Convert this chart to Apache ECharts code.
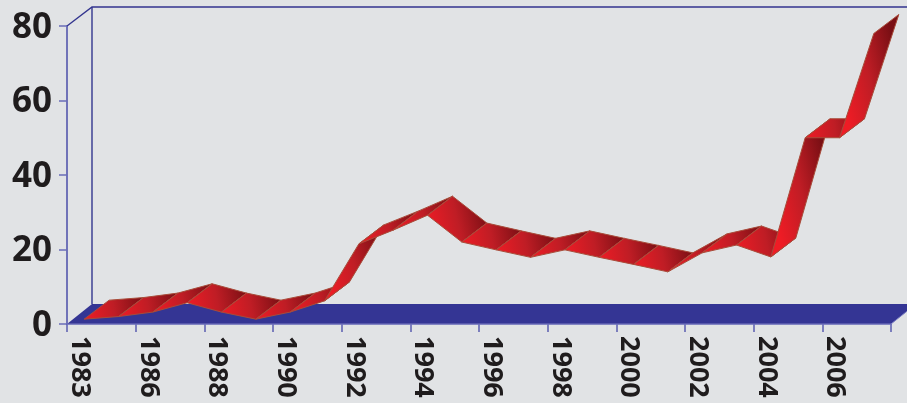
<!DOCTYPE html>
<html>
<head>
<meta charset="utf-8">
<style>
  html, body { margin: 0; padding: 0; background: #e1e3e5; }
  #chart { width: 907px; height: 403px; }
</style>
<script src="https://cdn.jsdelivr.net/npm/echarts@6/dist/echarts.min.js"></script>
</head>
<body>
<div id="chart"></div>
<script>
const years = ['1983', '1985', '1986', '1987', '1988', '1989', '1990', '1991', '1992', '1993', '1994', '1995',
  '1996', '1997', '1998', '1999', '2000', '2001', '2002', '2003', '2004', '2005', '2006', '2007'];
const values = [1.3, 2, 3.2, 5.7, 3.2, 1.3, 3.2, 6.2, 21.5, 25.2, 29.2, 22,
  19.9, 17.9, 19.9, 17.9, 16, 14, 19.1, 21.2, 18, 50, 50, 78];

// pseudo 3D depth of the ribbon and the walls, in pixels
const depthX = 25;
const depthY = -19;
const floorDepthY = -20;

const chart = echarts.init(document.getElementById('chart'), null, { renderer: 'canvas' });

const renderWalls = (params) => {
  const c = params.coordSys;
  const left = c.x;
  const right = c.x + c.width;
  const top = c.y;
  const bottom = c.y + c.height;
  const wall = { stroke: '#33358f', lineWidth: 1.4, fill: null };
  return {
    type: 'group',
    children: [
      {
        type: 'polygon',
        shape: { points: [[left, bottom], [right, bottom], [right + depthX, bottom + floorDepthY], [left + depthX, bottom + floorDepthY]] },
        style: { fill: '#343594' },
      },
      {
        type: 'polyline',
        shape: { points: [[left, bottom], [right, bottom], [right + depthX, bottom + floorDepthY]] },
        style: { stroke: '#7a7dc2', lineWidth: 1, fill: null },
      },
      {
        type: 'polyline',
        shape: { points: [[left, top], [left + depthX, top + depthY], [right + depthX, top + depthY]] },
        style: wall,
      },
      {
        type: 'line',
        shape: { x1: left + depthX, y1: top + depthY, x2: left + depthX, y2: bottom + floorDepthY },
        style: wall,
      },
    ],
  };
};

const renderRibbon = (params, api) => {
  const i = api.value(0);
  if (i >= values.length - 1) {
    return null;
  }
  const a = api.coord([i, api.value(1)]);
  const b = api.coord([i + 1, values[i + 1]]);
  // keep the shading tilt about the same in pixels on tall and flat pieces
  const height = Math.abs(a[1] - b[1]) + Math.abs(depthY);
  const tilt = 0.2 * Math.min(1, 35 / height);
  return {
    type: 'polygon',
    shape: {
      points: [a, b, [b[0] + depthX, b[1] + depthY], [a[0] + depthX, a[1] + depthY]],
    },
    style: {
      fill: new echarts.graphic.LinearGradient(0, 0.5 + tilt, 1, 0.5 - tilt, [
        { offset: 0, color: '#ee1c25' },
        { offset: 0.5, color: '#bf1d25' },
        { offset: 1, color: '#7a0f14' },
      ]),
      stroke: '#a84c3a',
      lineWidth: 1,
    },
  };
};

chart.setOption({
  backgroundColor: '#e1e3e5',
  animation: false,
  grid: { left: 67, right: 16, top: 26, bottom: 79 },
  xAxis: {
    type: 'category',
    data: years,
    boundaryGap: true,
    axisLine: { lineStyle: { color: '#6f73bb', width: 1.5 } },
    axisTick: { show: true, interval: 1, length: 8, lineStyle: { color: '#5a5eb0', width: 1.5 } },
    axisLabel: {
      interval: 1,
      rotate: -90,
      margin: 12,
      hideOverlap: false,
      fontFamily: 'Open Sans',
      fontWeight: 'bold',
      fontSize: 27,
      color: '#1f1c1d',
      verticalAlign: 'top',
      lineHeight: 9,
    },
    splitLine: { show: false },
  },
  yAxis: {
    type: 'value',
    min: 0,
    max: 80,
    interval: 20,
    axisLine: { show: true, lineStyle: { color: '#4a4ea8', width: 1.5 } },
    axisTick: { show: true, length: 8, lineStyle: { color: '#6a6eb8', width: 1.5 } },
    axisLabel: {
      margin: 15,
      fontFamily: 'Open Sans',
      fontWeight: 'bold',
      fontSize: 35,
      color: '#1f1c1d',
      verticalAlign: 'top',
      lineHeight: 4,
    },
    splitLine: { show: false },
  },
  series: [
    {
      type: 'custom',
      renderItem: renderWalls,
      data: [[0, 0]],
      silent: true,
      z: 1,
    },
    {
      type: 'custom',
      renderItem: renderRibbon,
      data: values.map((v, i) => [i, v]),
      encode: { x: 0, y: 1 },
      silent: true,
      clip: false,
      z: 2,
    },
  ],
});
</script>
</body>
</html>
